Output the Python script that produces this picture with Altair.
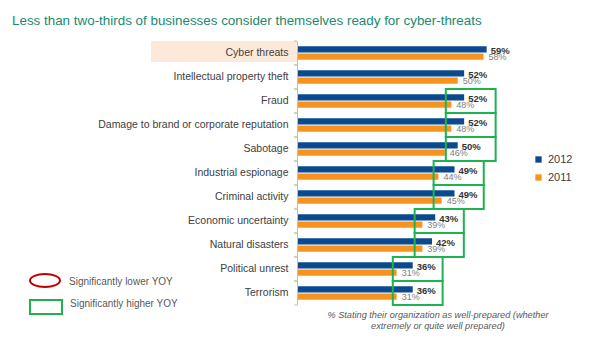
import altair as alt
import pandas as pd

categories = ["Cyber threats", "Intellectual property theft", "Fraud",
              "Damage to brand or corporate reputation", "Sabotage",
              "Industrial espionage", "Criminal activity", "Economic uncertainty",
              "Natural disasters", "Political unrest", "Terrorism"]
years = ["2012", "2011"]
v2012 = [59, 52, 52, 52, 50, 49, 49, 43, 42, 36, 36]
v2011 = [58, 50, 48, 48, 46, 44, 45, 39, 39, 31, 31]

# significantly higher YOY markers (in % units)
sig_cats = ["Fraud", "Damage to brand or corporate reputation", "Sabotage",
            "Industrial espionage", "Criminal activity", "Economic uncertainty",
            "Natural disasters", "Political unrest", "Terrorism"]
sig_x1 = [46.3, 46.3, 46.3, 42.5, 42.5, 36.6, 36.6, 29.8, 29.8]
sig_x2 = [61.8, 61.8, 61.8, 58.1, 58.1, 51.9, 51.9, 45.3, 45.3]

title_text = "Less than two-thirds of businesses consider themselves ready for cyber-threats"
note_lines = ["% Stating their organization as well-prepared (whether",
              "extremely or quite well prepared)"]

FONT = "Liberation Sans"
NAVY = "#0b4a8f"
ORANGE = "#f7941d"
GREEN = "#1db350"

rows = []
for c, a, b in zip(categories, v2012, v2011):
    rows.append({"category": c, "year": "2012", "value": a, "label": f"{a}%"})
    rows.append({"category": c, "year": "2011", "value": b, "label": f"{b}%"})
df = pd.DataFrame(rows)
sig_df = pd.DataFrame({"category": sig_cats, "x1": sig_x1, "x2": sig_x2})
cat_df = pd.DataFrame({"category": categories})
one = alt.Data(values=[{"a": 1}])

yscale = alt.Scale(domain=categories, paddingInner=0, paddingOuter=0)
xscale = alt.Scale(domain=[0, 70])
yoff_scale = alt.Scale(domain=years, paddingInner=0.14, paddingOuter=0.74)

Y = alt.Y("category:N", scale=yscale, sort=categories,
          axis=alt.Axis(title=None, ticks=False, domainColor="#bfbfbf",
                        labelFontSize=10.5, labelColor="#404040", labelPadding=9,
                        labelFont=FONT, labelLimit=300, zindex=1))
Yplain = alt.Y("category:N", scale=yscale, sort=categories, title=None)

highlight = alt.Chart(one).mark_rect(color="#fde9d9").encode(
    x=alt.value(-146), x2=alt.value(0), y=alt.value(0), y2=alt.value(21))

bars = alt.Chart(df).mark_bar().encode(
    x=alt.X("value:Q", scale=xscale, axis=None),
    y=Y,
    yOffset=alt.YOffset("year:N", scale=yoff_scale, sort=years),
    color=alt.Color("year:N", scale=alt.Scale(domain=years, range=[NAVY, ORANGE]),
                    legend=alt.Legend(orient="none", legendX=236, legendY=113,
                                      title=None, symbolType="square", symbolSize=40,
                                      labelFontSize=11, labelColor="#404040",
                                      labelFont=FONT, rowPadding=6)))

lab12 = alt.Chart(df).transform_filter(alt.datum.year == "2012").mark_text(
    align="left", baseline="middle", dx=4, dy=2, fontSize=9.5, fontWeight="bold",
    color="#333333", font=FONT).encode(
    x=alt.X("value:Q", scale=xscale, axis=None), y=Yplain,
    yOffset=alt.YOffset("year:N", scale=yoff_scale, sort=years), text="label:N")

lab11 = alt.Chart(df).transform_filter(alt.datum.year == "2011").mark_text(
    align="left", baseline="middle", dx=5, dy=0, fontSize=9, color="#808080",
    font=FONT).encode(
    x=alt.X("value:Q", scale=xscale, axis=None), y=Yplain,
    yOffset=alt.YOffset("year:N", scale=yoff_scale, sort=years), text="label:N")

ticks_top = alt.Chart(cat_df).mark_rule(color="#bfbfbf").encode(
    x=alt.value(-3), x2=alt.value(0),
    y=alt.Y("category:N", scale=yscale, sort=categories, bandPosition=0, title=None))
ticks_bot = alt.Chart(cat_df).mark_rule(color="#bfbfbf").encode(
    x=alt.value(-3), x2=alt.value(0),
    y=alt.Y("category:N", scale=yscale, sort=categories, bandPosition=1, title=None))

boxes = alt.Chart(sig_df).mark_rect(fill=None, stroke=GREEN, strokeWidth=2).encode(
    x=alt.X("x1:Q", scale=xscale, axis=None), x2="x2:Q", y=Yplain)

title = alt.Chart(one).mark_text(text=title_text, align="left", baseline="alphabetic",
                                 fontSize=13.4, color="#1a8a6e", font=FONT).encode(
    x=alt.value(-285), y=alt.value(-16))

ellipse = alt.Chart(one).mark_point(
    shape="M-1,0A1,0.43,0,1,1,1,0A1,0.43,0,1,1,-1,0Z", size=900, filled=False,
    stroke="#c00000", strokeWidth=2, opacity=1).encode(
    x=alt.value(-252), y=alt.value(239.5))
grect = alt.Chart(one).mark_rect(fill="white", stroke=GREEN, strokeWidth=2).encode(
    x=alt.value(-267), x2=alt.value(-235), y=alt.value(259), y2=alt.value(273))
leg_txt1 = alt.Chart(one).mark_text(text="Significantly lower YOY", align="left",
                                    baseline="middle", fontSize=10, color="#595959",
                                    font=FONT).encode(x=alt.value(-228), y=alt.value(240.5))
leg_txt2 = alt.Chart(one).mark_text(text="Significantly higher YOY", align="left",
                                    baseline="middle", fontSize=10, color="#595959",
                                    font=FONT).encode(x=alt.value(-227), y=alt.value(263))

note = alt.Chart(one).mark_text(text=note_lines, align="center", baseline="middle",
                                fontSize=9.2, fontStyle="italic", color="#595959",
                                lineHeight=10.5, font=FONT).encode(
    x=alt.value(141), y=alt.value(274))

chart = alt.layer(highlight, bars, lab12, lab11, ticks_top, ticks_bot, boxes, title,
                  ellipse, grect, leg_txt1, leg_txt2, note).properties(
    width=225, height=264,
    autosize=alt.AutoSizeParams(type="none"),
    padding={"left": 297, "top": 41, "right": 78, "bottom": 33},
).configure_view(stroke=None).resolve_scale(y="shared", x="shared")

chart.save("out.html", embed_options={"renderer": "svg", "actions": False})
